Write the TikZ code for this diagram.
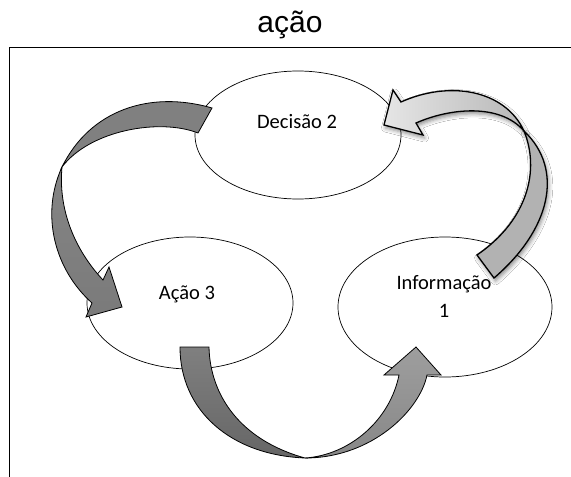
\documentclass[tikz,border=0pt]{standalone}
\usepackage{fontspec}
\setmainfont{Carlito}
\newfontfamily\arialfont{Liberation Sans}
\usetikzlibrary{shapes.geometric,shadows.blur}
\begin{document}
\begin{tikzpicture}[x=1pt,y=-1pt,
  bubble/.style={draw=black, line width=0.7pt, fill=white, ellipse, inner sep=0pt},
  lbl/.style={font=\fontsize{20.5}{28}\selectfont, text=black, align=center},
  darkarrow/.style={draw=black, line width=0.8pt, line join=miter},
  lightarrow/.style={draw=black, line width=1.3pt, line join=miter,
    blur shadow={shadow xshift=1.5pt, shadow yshift=-3pt, shadow blur radius=4pt, shadow opacity=45}},
]
\useasboundingbox (0,0) rectangle (571,477);
\fill[white] (0,0) rectangle (571,477);

% title and frame
\node[font=\arialfont\fontsize{30}{36}\selectfont] (title) at (290,25) {ação};
\coordinate (frTR) at (571,47);
\coordinate (frTL) at (9,47);
\coordinate (frBL) at (9,477);
\draw[line width=1pt] (frTR) -- (frTL) -- (frBL);

% ellipses
\node[bubble, minimum width=206, minimum height=128] (dec) at (298,135) {};
\node[bubble, minimum width=206, minimum height=132] (acao) at (190,303) {};
\node[bubble, minimum width=214, minimum height=140] (info) at (445,307) {};

% left arrow: Decisao -> Acao
\draw[darkarrow, top color=black!50, bottom color=black!50]
  (212,108) -- (198,133) .. controls (160,118) and (90,130) .. (62,167)
  .. controls (90,110) and (150,90) .. (212,108) -- cycle;
\draw[darkarrow, top color=black!48, bottom color=black!52]
  (62,167) .. controls (40,215) and (55,270) .. (92,303)
  -- (86,317) -- (122,307) -- (109,267) -- (103,280)
  .. controls (75,250) and (58,210) .. (62,167) -- cycle;

% bottom arrow: Acao -> Informacao
\draw[darkarrow, top color=black!50, bottom color=black!60]
  (180,347) -- (209,347) .. controls (210,395) and (240,440) .. (305,458)
  .. controls (230,455) and (180,410) .. (180,347) -- cycle;
\draw[darkarrow, top color=black!38, bottom color=black!47]
  (305,458) .. controls (372,458) and (420,410) .. (427,375)
  -- (441,375) -- (416,347) -- (384,375) -- (399,375)
  .. controls (390,420) and (350,455) .. (305,458) -- cycle;

% right arrow: Informacao -> Decisao
\draw[lightarrow, fill=black!30]
  (477,255) -- (494,278) .. controls (550,230) and (565,170) .. (524,131)
  .. controls (540,170) and (528,220) .. (477,255) -- cycle;
\draw[lightarrow, left color=black!10, right color=black!28]
  (524,131) .. controls (505,90) and (450,80) .. (401,102)
  -- (393,90) -- (384,125) -- (423,135) -- (416,123)
  .. controls (450,108) and (500,103) .. (524,131) -- cycle;

% labels
\node[lbl] (decl) at (297,122) {Decisão 2};
\node[lbl] (acaol) at (187,294) {Ação 3};
\node[lbl] (infol) at (444,296) {Informação\\1};
\end{tikzpicture}
\end{document}
